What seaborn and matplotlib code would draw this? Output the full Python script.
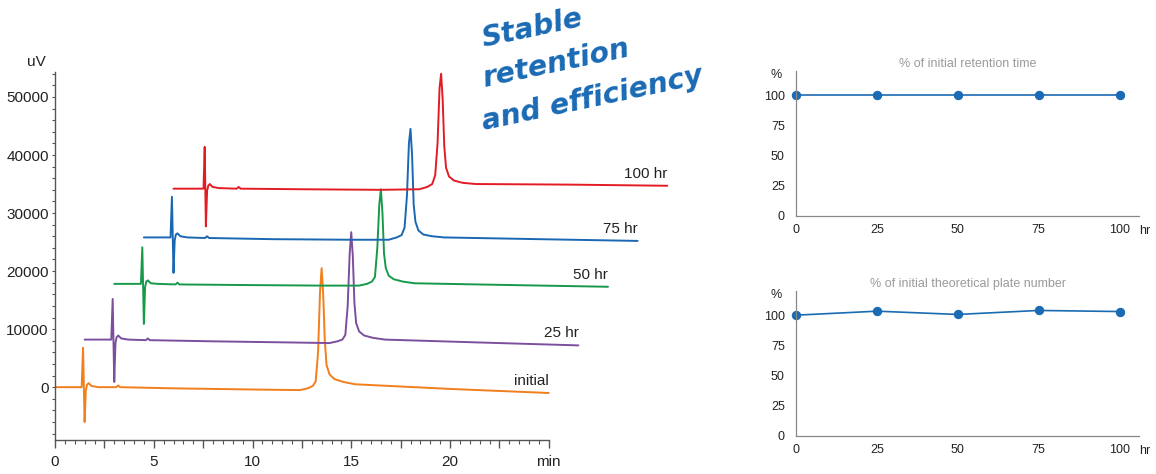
import matplotlib
matplotlib.use("Agg")
import matplotlib.pyplot as plt
import seaborn as sns

# chromatogram traces (time in min, signal in uV)
t_init = [0.0, 1.35, 1.42, 1.50, 1.56, 1.62, 1.70, 1.85, 2.2, 3.1, 3.2, 3.3, 6.0, 10.0, 12.4,
          12.8, 13.05, 13.2, 13.32, 13.42, 13.50, 13.58, 13.66, 13.75, 13.9, 14.15, 14.6, 15.2, 20.0, 25.0]
y_init = [0, 0, 6800, -6000, -600, 400, 700, 200, 0, 0, 300, 0, -200, -400, -500,
          -200, 200, 1000, 6000, 16500, 20500, 16000, 8000, 3800, 2200, 1400, 900, 500, -300, -1000]

t_25 = [1.5, 2.85, 2.92, 3.0, 3.06, 3.12, 3.2, 3.35, 3.7, 4.6, 4.7, 4.8, 8.0, 12.0, 13.9,
        14.3, 14.55, 14.7, 14.82, 14.92, 15.0, 15.08, 15.16, 15.25, 15.4, 15.65, 16.1, 16.7, 21.5, 26.5]
y_25 = [8200, 8200, 15200, 900, 7600, 8600, 8900, 8400, 8200, 8100, 8400, 8100, 7900, 7700, 7600,
        7900, 8200, 9000, 14000, 23000, 26700, 22500, 14500, 11000, 9600, 8900, 8500, 8200, 7700, 7200]

t_50 = [3.0, 4.35, 4.42, 4.5, 4.56, 4.62, 4.7, 4.85, 5.2, 6.1, 6.2, 6.3, 9.5, 13.5, 15.4,
        15.8, 16.05, 16.2, 16.32, 16.42, 16.5, 16.58, 16.66, 16.75, 16.9, 17.15, 17.6, 18.2, 23.0, 28.0]
y_50 = [17800, 17800, 24100, 10900, 17200, 18200, 18400, 17900, 17800, 17700, 18000, 17700, 17600, 17500, 17500,
        17800, 18200, 19000, 24000, 31500, 34100, 30000, 23000, 20500, 19200, 18600, 18200, 17900, 17600, 17300]

t_75 = [4.5, 5.85, 5.92, 6.0, 6.06, 6.12, 6.2, 6.35, 6.7, 7.6, 7.7, 7.8, 11.0, 15.0, 16.9,
        17.3, 17.55, 17.7, 17.82, 17.92, 18.0, 18.08, 18.16, 18.25, 18.4, 18.65, 19.1, 19.7, 24.5, 29.5]
y_75 = [25800, 25800, 32800, 19700, 25300, 26300, 26500, 26000, 25800, 25700, 26000, 25700, 25500, 25400, 25400,
        25800, 26200, 27500, 33000, 42000, 44500, 40000, 31500, 28500, 27000, 26300, 26000, 25800, 25500, 25200]

t_100 = [6.0, 7.52, 7.58, 7.64, 7.70, 7.76, 7.84, 7.98, 8.3, 9.2, 9.3, 9.4, 12.5, 16.5, 18.45,
         18.85, 19.1, 19.25, 19.37, 19.47, 19.55, 19.63, 19.71, 19.8, 19.95, 20.2, 20.65, 21.3, 26.0, 31.0]
y_100 = [34200, 34200, 41400, 27700, 33800, 34700, 35000, 34500, 34300, 34200, 34500, 34200, 34100, 34000, 34100,
         34500, 35000, 36500, 42000, 51500, 54000, 49500, 41500, 37800, 36300, 35600, 35200, 35000, 34900, 34700]

trace_labels = ["initial", "25 hr", "50 hr", "75 hr", "100 hr"]
trace_colors = ["#f07f1c", "#7b4f9e", "#17994a", "#1a68b3", "#e31c24"]

# stability summaries
hours = [0, 25, 50, 75, 100]
rt_pct = [100, 100, 100, 100, 100]
plate_pct = [100, 103.3, 100.6, 103.9, 103.0]

sns.set_style("white")
plt.rcParams["font.family"] = ["Liberation Sans", "DejaVu Sans"]

fig = plt.figure(figsize=(11.56, 4.74), dpi=100)

# ---- chromatograms
ax = fig.add_axes([55 / 1156, 34 / 474, 632 / 1156, 368 / 474])
traces = [(t_init, y_init), (t_25, y_25), (t_50, y_50), (t_75, y_75), (t_100, y_100)]
for (t, y), lab, col in zip(traces, trace_labels, trace_colors):
    sns.lineplot(x=t, y=y, ax=ax, color=col, linewidth=1.4, sort=False, estimator=None)
    ax.text(t[-1], y[-1] + 900, lab, ha="right", va="bottom", fontsize=11, color="#222222")

ax.set_xlim(0, 32)
ax.set_ylim(-9100, 54300)
sns.despine(ax=ax)
ax.spines["bottom"].set_bounds(0, 25)
for s in ["left", "bottom"]:
    ax.spines[s].set_color("#555555")
    ax.spines[s].set_linewidth(1.0)

ax.set_xticks([i * 2.5 for i in range(11)])
ax.set_xticklabels(["0", "", "5", "", "10", "", "15", "", "20", "", "min"])
ax.set_xticks([i * 0.5 for i in range(51)], minor=True)
ax.set_yticks([0, 10000, 20000, 30000, 40000, 50000])
ax.set_yticks(list(range(-8000, 54001, 2000)), minor=True)
ax.tick_params(axis="x", which="major", length=6, width=1, color="#555555", pad=5,
               labelsize=11, labelcolor="#222222", bottom=True)
ax.tick_params(axis="x", which="minor", length=3, width=0.8, color="#555555", bottom=True)
ax.tick_params(axis="y", which="both", length=2.5, width=0.8, color="#555555", pad=2,
               labelsize=11, labelcolor="#222222", left=True)
ax.set_xlabel("")
ax.set_ylabel("")
fig.text(36 / 1156, 1 - 62 / 474, "uV", ha="center", va="center", fontsize=11, color="#222222")

# ---- handwritten-style note
note_lines = ["Stable", "retention", "and efficiency"]
note_base_y = [47, 87, 130]
for line, py in zip(note_lines, note_base_y):
    fig.text(484 / 1156, 1 - py / 474, line, rotation=12, rotation_mode="anchor",
             ha="left", va="baseline", fontsize=20.5, fontweight="bold", fontstyle="italic",
             color="#1a6ab4", family="DejaVu Sans")

# ---- stability panels
line_col = "#1a6bb3"
panels = [
    ([796 / 1156, (474 - 216) / 474, 343 / 1156, 145 / 474], rt_pct, "% of initial retention time"),
    ([796 / 1156, (474 - 436) / 474, 343 / 1156, 145 / 474], plate_pct, "% of initial theoretical plate number"),
]
for rect, vals, title in panels:
    a = fig.add_axes(rect)
    sns.lineplot(x=hours, y=vals, ax=a, color=line_col, linewidth=1.2, marker="o",
                 markersize=6, markeredgecolor=line_col, clip_on=False)
    a.set_xlim(0, 106)
    a.set_ylim(0, 120)
    a.set_xticks(hours)
    a.set_yticks([0, 25, 50, 75, 100])
    a.tick_params(axis="both", length=0, labelsize=9, labelcolor="#222222")
    a.tick_params(axis="x", pad=6)
    a.tick_params(axis="y", pad=8)
    sns.despine(ax=a)
    for s in ["left", "bottom"]:
        a.spines[s].set_color("#888888")
        a.spines[s].set_linewidth(0.9)
    a.set_title(title, fontsize=9, color="#9a9a9a", pad=3)
    a.set_xlabel("")
    a.set_ylabel("")
    a.text(-0.058, 0.975, "%", transform=a.transAxes, ha="center", va="center",
           fontsize=9, color="#222222")
    a.text(1.017, -0.1, "hr", transform=a.transAxes, ha="center", va="center",
           fontsize=9, color="#222222")

fig.savefig("out.png", dpi=100)
